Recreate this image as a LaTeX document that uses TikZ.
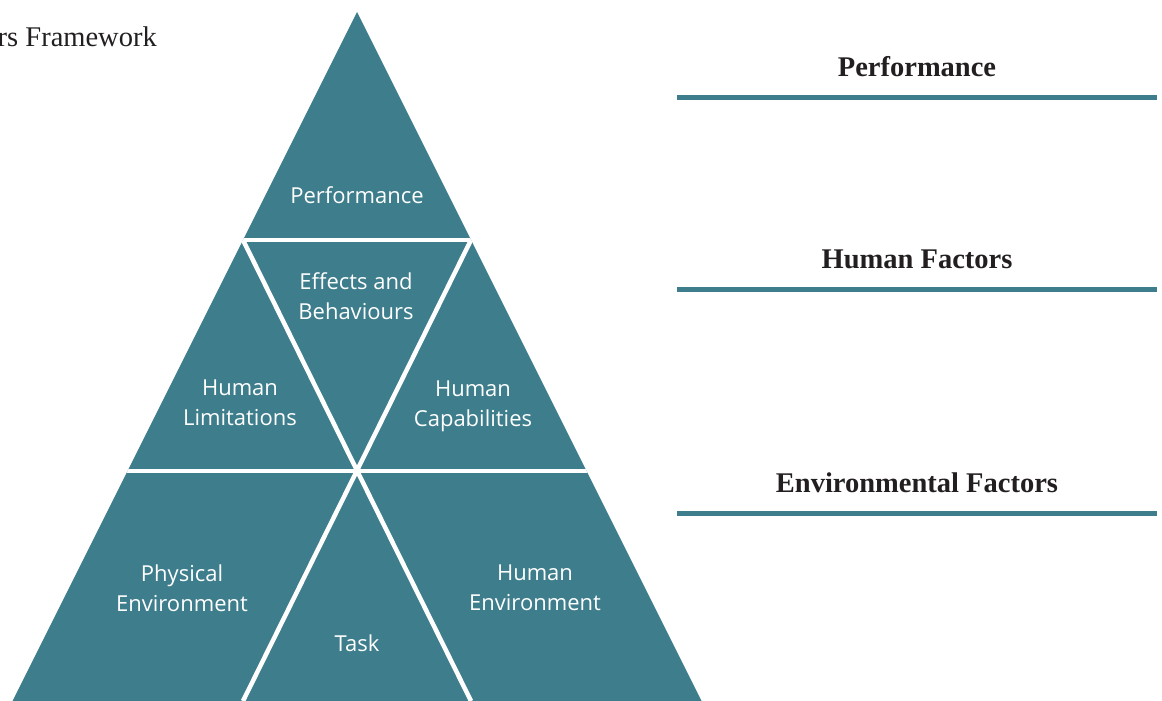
\documentclass[tikz,border=0pt]{standalone}
\usepackage{fontspec}
\setmainfont{Liberation Serif}
\newfontfamily\labelsans{Open Sans}
\definecolor{teal1}{RGB}{61,125,140}
\definecolor{ink}{RGB}{35,31,32}
\begin{document}
\begin{tikzpicture}[x=1pt,y=-1pt,
  seg/.style={font=\labelsans\fontsize{22}{30}\selectfont, text=white, align=center, inner sep=0pt},
  head/.style={font=\bfseries\fontsize{28.5}{30}\selectfont, text=ink, inner sep=0pt},
  rule/.style={draw=teal1, line width=5pt},
  gap/.style={draw=white, line width=4.5pt}]
\useasboundingbox (0,0) rectangle (1162,701);
% pyramid
\coordinate (apex) at (357,12);
\coordinate (bl) at (12.5,701);
\coordinate (br) at (701.5,701);
\fill[teal1] (apex) -- (br) -- (bl) -- cycle;
\begin{scope}
\clip (apex) -- (br) -- (bl) -- cycle;
\coordinate (r1l) at (200,240); \coordinate (r1r) at (520,240);
\coordinate (r2l) at (80,471); \coordinate (r2r) at (640,471);
\coordinate (d1a) at (243,240); \coordinate (d1b) at (471,701);
\coordinate (d2a) at (471,240); \coordinate (d2b) at (243,701);
\draw[gap] (r1l) -- (r1r);
\draw[gap] (r2l) -- (r2r);
\draw[gap] (d1a) -- (d1b);
\draw[gap] (d2a) -- (d2b);
\end{scope}
% segment labels
\node[seg] (perf) at (357,195) {Performance};
\node[seg] (eff) at (356,296) {Effects and\\Behaviours};
\node[seg] (lim) at (240,403) {Human\\Limitations};
\node[seg] (cap) at (473,406) {Human\\Capabilities};
\node[seg] (phys) at (182,588) {Physical\\Environment};
\node[seg] (henv) at (535,588) {Human\\Environment};
\node[seg] (task) at (357,643) {Task};
% right headings
\node[head] (hperf) at (917,67) {Performance};
\node[head] (hhum) at (917,259) {Human Factors};
\node[head] (henvf) at (917,483) {Environmental Factors};
\coordinate (l1a) at (677,97); \coordinate (l1b) at (1157,97);
\coordinate (l2a) at (677,289); \coordinate (l2b) at (1157,289);
\coordinate (l3a) at (677,513); \coordinate (l3b) at (1157,513);
\draw[rule] (l1a) -- (l1b);
\draw[rule] (l2a) -- (l2b);
\draw[rule] (l3a) -- (l3b);
% caption fragment
\node[anchor=east, inner sep=0pt, text=ink, font=\fontsize{28.5}{30}\selectfont] (cap0) at (157,37) {rs Framework};
\end{tikzpicture}
\end{document}
